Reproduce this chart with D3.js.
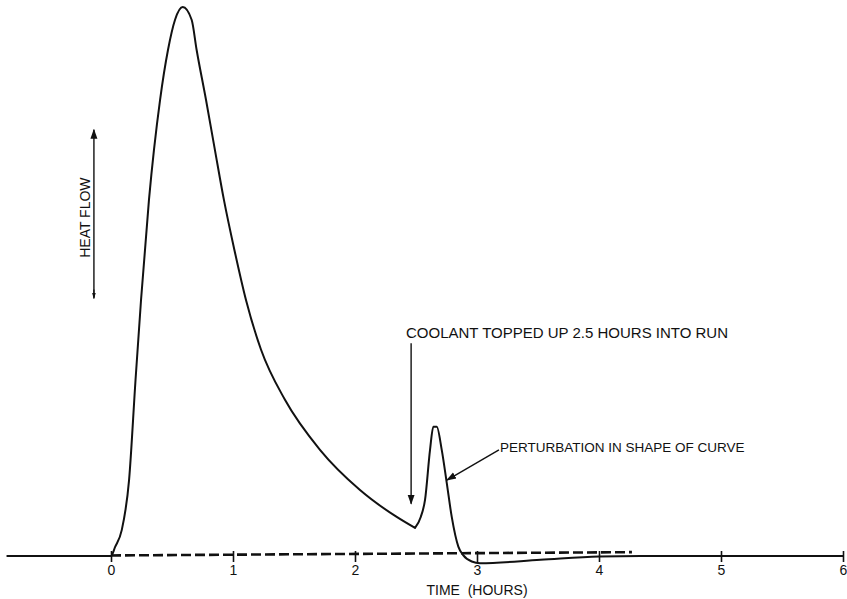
<!DOCTYPE html>
<html>
<head>
<meta charset="utf-8">
<script src="https://cdn.jsdelivr.net/npm/d3@7"></script>
<style>
  html, body { margin: 0; padding: 0; background: #fff; }
  svg { display: block; }
  text { font-family: "Liberation Sans", Arial, Helvetica, sans-serif; fill: #111; }
</style>
</head>
<body>
<svg id="chart" width="847" height="599"></svg>
<script>
// ---- data ----
const curveHours = [-0.85, -0.4, 0, 0.033, 0.088, 0.148, 0.201, 0.246, 0.311, 0.402, 0.467, 0.525, 0.588, 0.661, 0.702, 0.779, 0.852, 0.926, 1.012, 1.107, 1.23, 1.426, 1.713, 2.041, 2.342, 2.492, 2.539, 2.574, 2.615, 2.642, 2.67, 2.711, 2.752, 2.793, 2.847, 2.885, 2.957, 3.025, 3.52, 4.0, 4.34, 5.0, 6.0];
const curveHeat  = [0, 0, 0, 1.6, 4.7, 13.8, 32, 46.5, 64.7, 82.9, 92, 97.5, 99.8, 97.5, 92, 82.9, 73.8, 64.7, 55.6, 46.5, 37.5, 28.4, 19.3, 12, 7.1, 5.1, 7.1, 10.2, 19.3, 23.5, 23.5, 19.3, 13.3, 7.1, 1.7, 0.2, -1.0, -1.3, -0.7, -0.1, 0, 0, 0];
const coolantTime = 2.492;   // the curve has a sharp corner here
const baselineHours = [0, 4.27];
const baselineHeat  = [0.1, 0.7];
const tickValues = [0, 1, 2, 3, 4, 5, 6];
const tickLabels = ["0", "1", "2", "3", "4", "5", "6"];
const xTitle = "TIME  (HOURS)";
const yTitle = "HEAT FLOW";
const coolantNote = "COOLANT TOPPED UP 2.5 HOURS INTO RUN";
const perturbNote = "PERTURBATION IN SHAPE OF CURVE";
const coolantArrow = {h: 2.46, from: 38.7, to: 9.5};           // hours, heat values
const perturbArrow = {h0: 3.18, v0: 19.3, h1: 2.754, v1: 13.8};
const heatArrow = {h: -0.14, from: 47, to: 77.5};

// ---- scales ----
const svg = d3.select("#chart");
const x = d3.scaleLinear().domain([0, 6]).range([111, 843]);
const y = d3.scaleLinear().domain([0, 100]).range([556, 6]);
const ink = "#111";

// arrow markers
const defs = svg.append("defs");
defs.append("marker").attr("id", "ah").attr("viewBox", "0 0 10 10")
  .attr("refX", 9).attr("refY", 5).attr("markerWidth", 10).attr("markerHeight", 10)
  .attr("markerUnits", "userSpaceOnUse").attr("orient", "auto")
  .append("path").attr("d", "M0,1.5 L10,5 L0,8.5 Z").attr("fill", ink);
defs.append("marker").attr("id", "ahs").attr("viewBox", "0 0 10 10")
  .attr("refX", 9).attr("refY", 5).attr("markerWidth", 6).attr("markerHeight", 6)
  .attr("markerUnits", "userSpaceOnUse").attr("orient", "auto")
  .append("path").attr("d", "M0,2 L10,5 L0,8 Z").attr("fill", ink);

// ---- axis (ticks + labels, no domain line) ----
const axis = d3.axisBottom(x).tickValues(tickValues)
  .tickFormat((d, i) => tickLabels[i]).tickSize(6).tickPadding(3);
const gAxis = svg.append("g").attr("transform", `translate(0,${y(0)})`).call(axis);
gAxis.select(".domain").remove();
gAxis.selectAll(".tick line").attr("y1", -5).attr("y2", 6).attr("stroke", ink).attr("stroke-width", 1.6);
gAxis.selectAll(".tick text").attr("font-size", 14).attr("font-family", '"Liberation Sans", Arial, sans-serif').attr("fill", ink);

svg.append("text").attr("x", x(3.0)).attr("y", 595).attr("text-anchor", "middle")
  .attr("font-size", 14).style("white-space", "pre").text(xTitle);

// ---- baseline (dashed) ----
const baseData = baselineHours.map((h, i) => ({h, v: baselineHeat[i]}));
svg.append("path").datum(baseData)
  .attr("d", d3.line().x(d => x(d.h)).y(d => y(d.v)))
  .attr("fill", "none").attr("stroke", ink).attr("stroke-width", 2.6)
  .attr("stroke-dasharray", "10,4");

// ---- heat flow curve (two smooth pieces meeting at the coolant corner) ----
const curveData = curveHours.map((h, i) => ({h, v: curveHeat[i]}));
const pieces = [curveData.filter(d => d.h <= coolantTime), curveData.filter(d => d.h >= coolantTime)];
const lineGen = d3.line().x(d => x(d.h)).y(d => y(d.v)).curve(d3.curveMonotoneX);
svg.append("path")
  .attr("d", pieces.map(p => lineGen(p)).join(""))
  .attr("fill", "none").attr("stroke", ink).attr("stroke-width", 2)
  .attr("stroke-linejoin", "round").attr("stroke-linecap", "round");

// ---- heat flow axis arrow ----
svg.append("line")
  .attr("x1", x(heatArrow.h)).attr("y1", y(heatArrow.from))
  .attr("x2", x(heatArrow.h)).attr("y2", y(heatArrow.to))
  .attr("stroke", ink).attr("stroke-width", 1.4).attr("marker-end", "url(#ah)");
svg.append("line")
  .attr("x1", x(heatArrow.h)).attr("y1", y(heatArrow.from) - 8)
  .attr("x2", x(heatArrow.h)).attr("y2", y(heatArrow.from) + 1)
  .attr("stroke", ink).attr("stroke-width", 1.2).attr("marker-end", "url(#ahs)");
svg.append("text")
  .attr("transform", `translate(${x(heatArrow.h) - 4},${(y(heatArrow.from) + y(heatArrow.to)) / 2 + 4}) rotate(-90)`)
  .attr("text-anchor", "middle").attr("font-size", 14).text(yTitle);

// ---- coolant annotation ----
svg.append("line")
  .attr("x1", x(coolantArrow.h)).attr("y1", y(coolantArrow.from))
  .attr("x2", x(coolantArrow.h)).attr("y2", y(coolantArrow.to))
  .attr("stroke", ink).attr("stroke-width", 1.4).attr("marker-end", "url(#ah)");
svg.append("text").attr("x", 406).attr("y", 338).attr("font-size", 15).text(coolantNote);

// ---- perturbation annotation ----
svg.append("line")
  .attr("x1", x(perturbArrow.h0)).attr("y1", y(perturbArrow.v0))
  .attr("x2", x(perturbArrow.h1)).attr("y2", y(perturbArrow.v1))
  .attr("stroke", ink).attr("stroke-width", 1.4).attr("marker-end", "url(#ah)");
svg.append("text").attr("x", x(perturbArrow.h0) + 1).attr("y", 452).attr("font-size", 13.5).text(perturbNote);
</script>
</body>
</html>
